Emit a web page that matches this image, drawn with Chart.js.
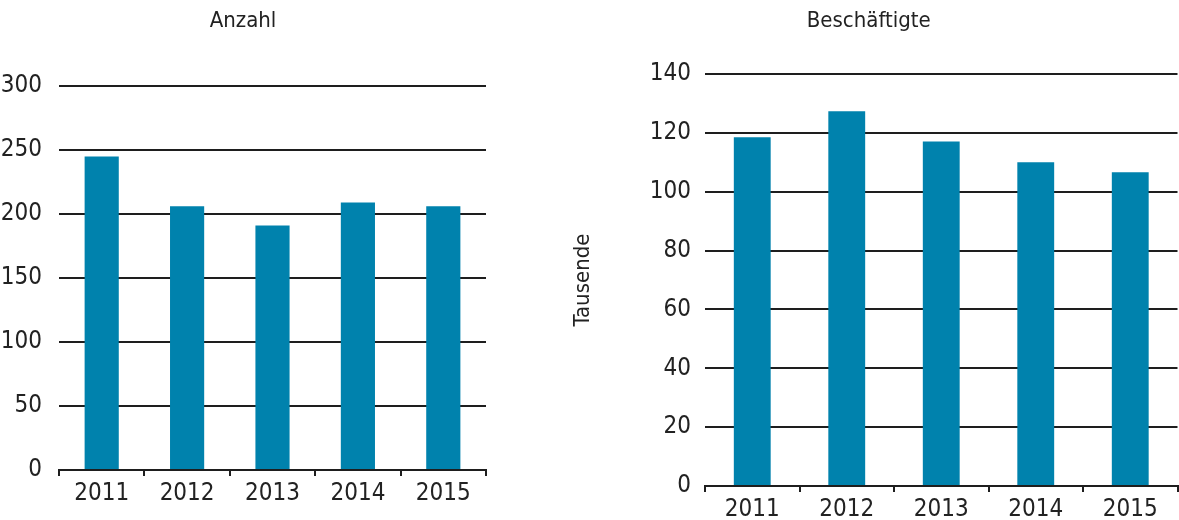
<!DOCTYPE html>
<html>
<head>
<meta charset="utf-8">
<script src="https://cdn.jsdelivr.net/npm/chart.js@4/dist/chart.umd.min.js"></script>
<style>
  html, body { margin: 0; padding: 0; background: #fff; overflow: hidden; }
  #left { position: absolute; left: 0; top: 0; width: 487px; height: 520px; }
  #right { position: absolute; left: 560px; top: 0; width: 619px; height: 536px; }
</style>
</head>
<body>
<div id="left"><canvas id="chartAnzahl"></canvas></div>
<div id="right"><canvas id="chartBesch"></canvas></div>
<script>
const years = ["2011", "2012", "2013", "2014", "2015"];
const anzahl = [245, 206, 191, 209, 206];
const beschaeftigte = [118.5, 127.3, 117.1, 110.0, 106.6];

// no narrow Univers here, condensed DejaVu is the closest installed
const FONT = "'Liberation Sans Narrow', 'DejaVu Sans Condensed', sans-serif";
const TEXT = "#222";
const LINE = "#1e1e1e";
const BAR = "#0082ad";

Chart.defaults.font.family = FONT;
Chart.defaults.color = TEXT;

function makeChart(id, title, data, max, step, opts) {
  const canvas = document.getElementById(id);
  return new Chart(canvas, {
    type: "bar",
    data: {
      labels: years,
      datasets: [
        {
          data: data,
          backgroundColor: BAR,
          borderWidth: 0,
          barPercentage: opts.barPct,
          categoryPercentage: 1,
        },
      ],
    },
    options: {
      responsive: true,
      maintainAspectRatio: false,
      animation: false,
      layout: { padding: { left: 0, right: opts.padRight, top: 0, bottom: 0 } },
      plugins: {
        legend: { display: false },
        tooltip: { enabled: false },
        title: {
          display: true,
          text: title,
          color: TEXT,
          font: { size: 22, weight: "normal", lineHeight: 1.2 },
          padding: { top: 8, bottom: opts.titleBottom },
        },
      },
      scales: {
        x: {
          offset: true,
          grid: {
            display: true,
            offset: true,
            drawOnChartArea: false,
            drawTicks: true,
            tickLength: 6,
            color: LINE,
            lineWidth: 2,
          },
          border: { display: true, color: LINE, width: 2 },
          ticks: { font: { size: 24 }, color: TEXT, padding: 3, maxRotation: 0 },
          afterFit: (scale) => {
            scale.height = 50;
          },
        },
        y: {
          min: 0,
          max: max,
          grid: { color: LINE, lineWidth: 2, drawTicks: false },
          border: { display: false },
          ticks: { stepSize: step, font: { size: 24 }, color: TEXT, padding: opts.tickPad },
          title: opts.yTitle
            ? {
                display: true,
                text: opts.yTitle,
                color: TEXT,
                font: { size: 22, lineHeight: 1.2 },
                padding: { top: 10, bottom: 0 },
              }
            : { display: false },
          afterFit: (scale) => {
            scale.width = opts.yWidth;
          },
        },
      },
    },
  });
}

makeChart("chartAnzahl", "Anzahl", anzahl, 300, 50, {
  barPct: 0.4,
  padRight: 1,
  titleBottom: 51.6,
  tickPad: 17,
  yWidth: 59,
});

makeChart("chartBesch", "Beschäftigte", beschaeftigte, 140, 20, {
  barPct: 0.39,
  padRight: 1.5,
  titleBottom: 39.6,
  tickPad: 14,
  yWidth: 145,
  yTitle: "Tausende",
});
</script>
</body>
</html>
